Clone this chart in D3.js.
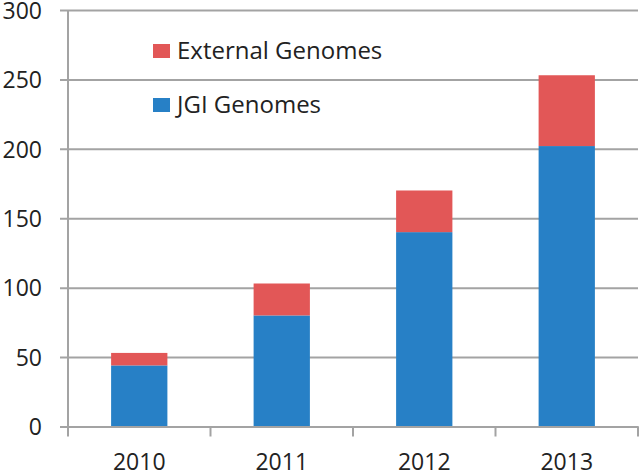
<!DOCTYPE html>
<html><head><meta charset="utf-8">
<script src="https://cdn.jsdelivr.net/npm/d3@7"></script>
<style>html,body{margin:0;padding:0;background:#fff;}svg{display:block;}</style>
</head><body>
<svg id="chart" width="640" height="472"></svg>
<script>
const years = ["2010", "2011", "2012", "2013"];
const jgiGenomes = [44, 80, 140, 202];
const externalGenomes = [9, 23, 30, 51];
const yTicks = [0, 50, 100, 150, 200, 250, 300];
const seriesNames = ["JGI Genomes", "External Genomes"];
const seriesColors = ["#2780C6", "#E25757"];

const svg = d3.select("#chart");
const m = {left: 68, right: 2, top: 10, bottom: 45};
const x = d3.scaleBand().domain(years).range([m.left, 638]).padding(0);
const y = d3.scaleLinear().domain([0, 300]).range([426.5, 10]);

const font = "'Open Sans', sans-serif";
const gridColor = "#A3A3A3";

// gridlines with left tick marks
const yAxis = d3.axisLeft(y).tickValues(yTicks).tickSize(-(638 - m.left)).tickSizeOuter(0);
const gy = svg.append("g").attr("transform", `translate(${m.left},0)`).call(yAxis);
gy.select(".domain").remove();
gy.selectAll(".tick line").attr("stroke", gridColor).attr("stroke-width", 2).attr("x1", -8);
gy.selectAll(".tick text").attr("font-family", font).attr("font-size", 23).attr("fill", "#222").attr("x", -26).attr("dy", "0.36em");

// y axis line
svg.append("line").attr("x1", m.left).attr("x2", m.left).attr("y1", y(300)).attr("y2", y(0) + 10)
  .attr("stroke", gridColor).attr("stroke-width", 2);

// stacked bars
const data = years.map((yr, i) => ({year: yr, jgi: jgiGenomes[i], ext: externalGenomes[i]}));
const stack = d3.stack().keys(["jgi", "ext"])(data);
const barW = x.bandwidth() * 0.395;
svg.append("g").selectAll("g").data(stack).join("g")
  .attr("fill", (d, i) => seriesColors[i])
  .selectAll("rect").data(d => d).join("rect")
  .attr("x", d => x(d.data.year) + (x.bandwidth() - barW) / 2)
  .attr("width", barW)
  .attr("y", d => y(d[1]))
  .attr("height", d => y(d[0]) - y(d[1]));

// x axis
const xAxis = d3.axisBottom(x).tickSize(0).tickPadding(27);
const gx = svg.append("g").attr("transform", `translate(0,${y(0)})`).call(xAxis);
gx.select(".domain").attr("stroke", gridColor).attr("stroke-width", 2);
gx.selectAll(".tick text").attr("font-family", font).attr("font-size", 23).attr("fill", "#222");
// category separator ticks
const bounds = years.map(yr => x(yr) + x.bandwidth());
svg.append("g").selectAll("line").data(bounds).join("line")
  .attr("x1", d => d).attr("x2", d => d).attr("y1", y(0)).attr("y2", y(0) + 10)
  .attr("stroke", gridColor).attr("stroke-width", 2);

// legend
const legendItems = [{name: seriesNames[1], color: seriesColors[1], yy: 51}, {name: seriesNames[0], color: seriesColors[0], yy: 105}];
const lg = svg.append("g");
legendItems.forEach(it => {
  lg.append("rect").attr("x", 153).attr("y", it.yy - 7).attr("width", 17).attr("height", 14).attr("fill", it.color);
  lg.append("text").attr("x", 177).attr("y", it.yy).attr("dy", "0.35em")
    .attr("font-family", font).attr("font-size", 24).attr("fill", "#222").text(it.name);
});
</script>
</body></html>
